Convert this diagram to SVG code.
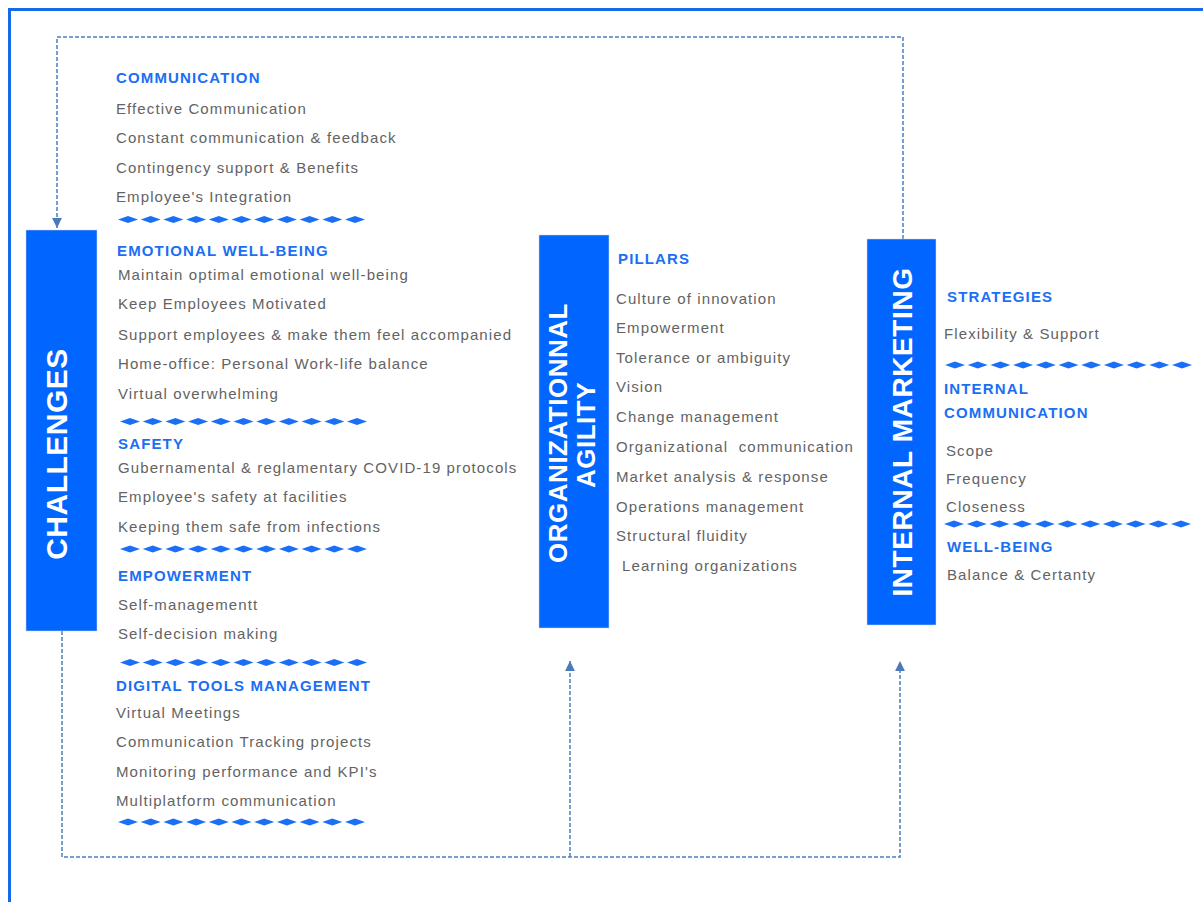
<svg xmlns="http://www.w3.org/2000/svg" width="1203" height="902" viewBox="0 0 1203 902">
<style>
.frame{fill:none;stroke:#1769ec;stroke-width:3}
.box{fill:#0066ff;stroke:#d8d8d8;stroke-width:0.5}
.title{font-family:"Liberation Sans",Arial,sans-serif;font-weight:bold;fill:#ffffff;text-anchor:middle}
.h{font-family:"Liberation Sans",Arial,sans-serif;font-weight:bold;font-size:15px;letter-spacing:1.15px;fill:#1a6ff5}
.t{font-family:"Liberation Sans",Arial,sans-serif;font-size:15px;letter-spacing:1.1px;fill:#636363}
.conn{fill:none;stroke:#4f7fba;stroke-width:1.5;stroke-dasharray:4 2}
.dia{fill:#1a6ff5}
</style>
<defs>
<marker id="arr" markerUnits="userSpaceOnUse" markerWidth="11" markerHeight="11" viewBox="0 0 10 10" refX="9" refY="5" orient="auto">
<path d="M0,0.5 L9,5 L0,9.5 Z" fill="#4a7ab8"/>
</marker>
<path id="dia" class="dia" d="M0,0L10,-3.5L20,0L10,3.5ZM22.7,0L32.7,-3.5L42.7,0L32.7,3.5ZM45.4,0L55.4,-3.5L65.4,0L55.4,3.5ZM68.1,0L78.1,-3.5L88.1,0L78.1,3.5ZM90.8,0L100.8,-3.5L110.8,0L100.8,3.5ZM113.5,0L123.5,-3.5L133.5,0L123.5,3.5ZM136.2,0L146.2,-3.5L156.2,0L146.2,3.5ZM158.9,0L168.9,-3.5L178.9,0L168.9,3.5ZM181.6,0L191.6,-3.5L201.6,0L191.6,3.5ZM204.3,0L214.3,-3.5L224.3,0L214.3,3.5ZM227,0L237,-3.5L247,0L237,3.5Z"/>
</defs>
<rect width="1203" height="902" fill="#ffffff"/>
<path class="frame" d="M9.5,902 V9.5 H1203"/>

<g id="connectors">
<path class="conn" d="M903,239 V37 H57 V228" marker-end="url(#arr)"/>
<path class="conn" d="M62,631 V857 H900 V661" marker-end="url(#arr)"/>
<path class="conn" d="M570,857 V661" marker-end="url(#arr)"/>
</g>

<g id="challenges">
<rect class="box" x="26" y="230" width="71" height="401"/>
<text class="title" font-size="30" letter-spacing="0.5" transform="translate(67,454) rotate(-90)">CHALLENGES</text>
</g>

<g id="agility">
<rect class="box" x="539" y="235" width="70" height="393"/>
<text class="title" font-size="26" letter-spacing="0.5" transform="translate(567,433) rotate(-90)">ORGANIZATIONNAL</text>
<text class="title" font-size="26" letter-spacing="0.5" transform="translate(595,435) rotate(-90)">AGILITY</text>
</g>

<g id="internal-marketing">
<rect class="box" x="867" y="239" width="69" height="386"/>
<text class="title" font-size="28" letter-spacing="0.6" transform="translate(912,432) rotate(-90)">INTERNAL MARKETING</text>
</g>

<g id="challenges-list">
<text class="h" x="116" y="83">COMMUNICATION</text>
<text class="t" x="116" y="114">Effective Communication</text>
<text class="t" x="116" y="143">Constant communication &amp; feedback</text>
<text class="t" x="116" y="173">Contingency support &amp; Benefits</text>
<text class="t" x="116" y="202">Employee's Integration</text>
<use href="#dia" x="118" y="219.5"/>
<text class="h" x="117" y="256">EMOTIONAL WELL-BEING</text>
<text class="t" x="118" y="280">Maintain optimal emotional well-being</text>
<text class="t" x="118" y="309">Keep Employees Motivated</text>
<text class="t" x="118" y="340">Support employees &amp; make them feel accompanied</text>
<text class="t" x="118" y="369">Home-office: Personal Work-life balance</text>
<text class="t" x="118" y="399">Virtual overwhelming</text>
<use href="#dia" x="120" y="421.5"/>
<text class="h" x="118" y="449">SAFETY</text>
<text class="t" x="118" y="473">Gubernamental &amp; reglamentary COVID-19 protocols</text>
<text class="t" x="118" y="502">Employee's safety at facilities</text>
<text class="t" x="118" y="532">Keeping them safe from infections</text>
<use href="#dia" x="120" y="549"/>
<text class="h" x="118" y="581">EMPOWERMENT</text>
<text class="t" x="118" y="610">Self-managementt</text>
<text class="t" x="118" y="639">Self-decision making</text>
<use href="#dia" x="120" y="662.5"/>
<text class="h" x="116" y="691">DIGITAL TOOLS MANAGEMENT</text>
<text class="t" x="116" y="718">Virtual Meetings</text>
<text class="t" x="116" y="747">Communication Tracking projects</text>
<text class="t" x="116" y="777">Monitoring performance and KPI's</text>
<text class="t" x="116" y="806">Multiplatform communication</text>
<use href="#dia" x="118" y="822"/>
</g>

<g id="pillars-list">
<text class="h" x="618" y="264">PILLARS</text>
<text class="t" x="616" y="304">Culture of innovation</text>
<text class="t" x="616" y="333">Empowerment</text>
<text class="t" x="616" y="363">Tolerance or ambiguity</text>
<text class="t" x="616" y="392">Vision</text>
<text class="t" x="616" y="422">Change management</text>
<text class="t" x="616" y="452" xml:space="preserve">Organizational  communication</text>
<text class="t" x="616" y="482">Market analysis &amp; response</text>
<text class="t" x="616" y="512">Operations management</text>
<text class="t" x="616" y="541">Structural fluidity</text>
<text class="t" x="622" y="571">Learning organizations</text>
</g>

<g id="strategies-list">
<text class="h" x="947" y="302">STRATEGIES</text>
<text class="t" x="944" y="339">Flexibility &amp; Support</text>
<use href="#dia" x="945" y="365"/>
<text class="h" x="944" y="394">INTERNAL</text>
<text class="h" x="944" y="418">COMMUNICATION</text>
<text class="t" x="946" y="456">Scope</text>
<text class="t" x="946" y="484">Frequency</text>
<text class="t" x="946" y="512">Closeness</text>
<use href="#dia" x="944" y="524"/>
<text class="h" x="947" y="552">WELL-BEING</text>
<text class="t" x="947" y="580">Balance &amp; Certanty</text>
</g>
</svg>
